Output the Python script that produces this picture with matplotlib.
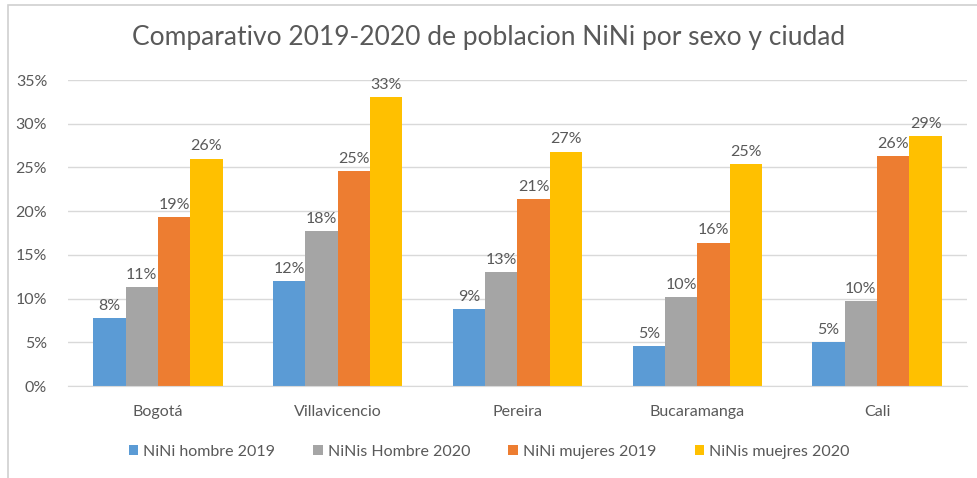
import matplotlib
matplotlib.use("Agg")
import matplotlib.pyplot as plt
import numpy as np
from matplotlib.patches import Rectangle
from matplotlib.ticker import PercentFormatter

cities = ["Bogotá", "Villavicencio", "Pereira", "Bucaramanga", "Cali"]
series = ["NiNi hombre 2019", "NiNis Hombre 2020", "NiNi mujeres 2019", "NiNis muejres 2020"]
hombre_2019 = [7.8, 12.0, 8.8, 4.6, 5.0]
hombre_2020 = [11.3, 17.7, 13.0, 10.2, 9.7]
mujeres_2019 = [19.3, 24.6, 21.4, 16.4, 26.3]
mujeres_2020 = [26.0, 33.0, 26.8, 25.4, 28.6]
colors = ["#5B9BD5", "#A5A5A5", "#ED7D31", "#FFC000"]

TEXT = "#595959"
plt.rcParams["font.family"] = ["Lato", "DejaVu Sans"]

fig = plt.figure(figsize=(9.78, 4.78), dpi=100)
fig.patches.append(Rectangle((8 / 978, -0.1), 1.2, (478 - 5) / 478 + 0.1,
                             transform=fig.transFigure, fill=False,
                             edgecolor="#D0D0D0", linewidth=1.2))
ax = fig.add_axes([68 / 978, 1 - 386 / 478, (967 - 68) / 978, (386 - 80) / 478])

x = np.arange(len(cities))
width = 0.18
all_vals = [hombre_2019, hombre_2020, mujeres_2019, mujeres_2020]
for i, (vals, name, col) in enumerate(zip(all_vals, series, colors)):
    pos = x + (i - 1.5) * width
    bars = ax.bar(pos, vals, width, color=col, label=name, zorder=2)
    for b, v in zip(bars, vals):
        ax.text(b.get_x() + b.get_width() / 2, v + 0.6, f"{round(v):.0f}%",
                ha="center", va="bottom", fontsize=11.5, color=TEXT)

ax.set_xlim(-0.5, len(cities) - 0.5)
ax.set_ylim(0, 35)
ax.set_yticks(np.arange(0, 36, 5))
ax.yaxis.set_major_formatter(PercentFormatter(decimals=0))
ax.set_xticks(x)
ax.set_xticklabels(cities)
ax.grid(axis="y", color="#D9D9D9", linewidth=1, zorder=0)
for s in ["top", "right", "left"]:
    ax.spines[s].set_visible(False)
ax.spines["bottom"].set_color("#D9D9D9")
ax.tick_params(axis="both", length=0, colors=TEXT, labelsize=11.5)
ax.tick_params(axis="x", pad=14)
ax.tick_params(axis="y", pad=15)

fig.text(0.5, 1 - 38 / 478, "Comparativo 2019-2020 de poblacion NiNi por sexo y ciudad",
         ha="center", va="center", fontsize=19, color=TEXT)

ax.legend(loc="center", bbox_to_anchor=(0.5 * 978 / 899 - 68 / 899, -0.215), ncol=4,
          frameon=False, fontsize=11.5, labelcolor=TEXT, handlelength=0.6,
          handleheight=0.6, handletextpad=0.3, columnspacing=2.4)

fig.savefig("out.png", dpi=100)
